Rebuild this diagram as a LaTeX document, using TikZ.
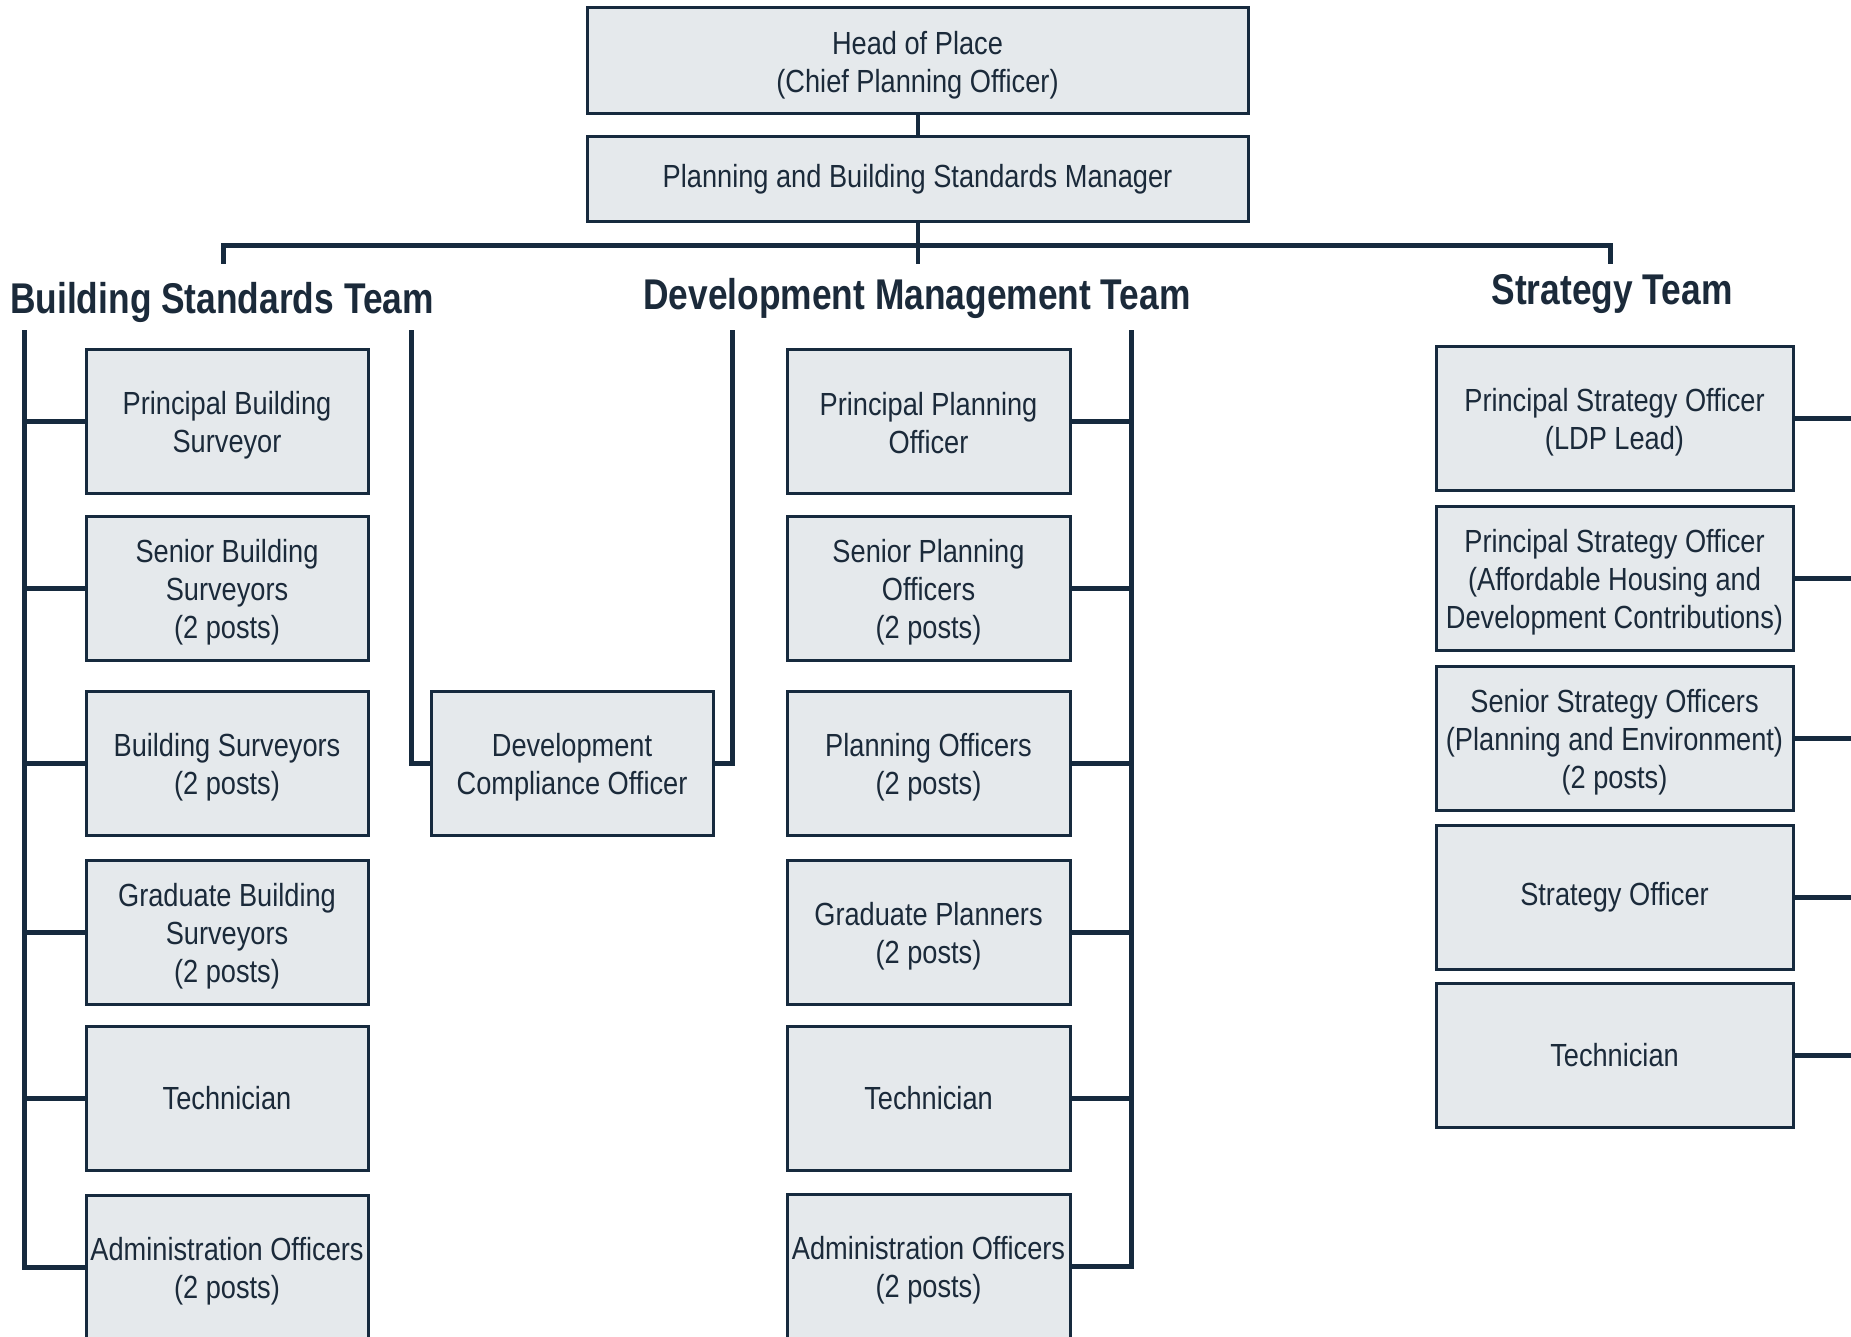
\documentclass[tikz,border=0pt]{standalone}
\usepackage{fontspec}
\setmainfont{Liberation Sans}[FakeStretch=0.85]
\newfontfamily\headfont{Liberation Sans}[FakeStretch=0.822]
\definecolor{navy}{RGB}{22,42,62}
\definecolor{ink}{RGB}{27,42,58}
\definecolor{boxfill}{RGB}{229,233,236}
\begin{document}
\begin{tikzpicture}[x=1pt,y=-1pt,
  role/.style={draw=navy, line width=3pt, fill=boxfill, inner sep=0pt, minimum height=144pt},
  txt/.style={text=ink, inner sep=0pt, align=center, font=\fontsize{32}{38}\selectfont, yshift=-4pt},
  txtone/.style={txt, yshift=4pt},
  bsbox/.style={role, minimum width=282pt},
  dmbox/.style={role, minimum width=283pt},
  stbox/.style={role, minimum width=357pt},
  topbox/.style={role, minimum width=661pt},
  link/.style={draw=navy, line width=5pt},
  teamhead/.style={font=\headfont\bfseries\fontsize{43}{50}\selectfont, text=ink,
    anchor=base, inner sep=0pt}]
\useasboundingbox (0,0) rectangle (1851,1337);
\clip (0,0) rectangle (1851,1337);
\fill[white] (0,0) rectangle (1851,1337);

% top boxes
\path (917.5,61) node[topbox, minimum height=106pt] (head) {}
  node[txt] (headt) {Head of Place\\(Chief Planning Officer)};
\path (917.5,179.5) node[topbox, minimum height=85pt] (mgr) {}
  node[txtone] (mgrt) {Planning and Building Standards Manager};

% team headings
\node[teamhead] (bst) at (222,313) {Building Standards Team};
\node[teamhead] (dmt) at (917,310) {Development Management Team};
\node[teamhead] (stt) at (1612,305) {Strategy Team};

% Building Standards column
\path (227,421) node[bsbox] (bs1) {} node[txt] (bs1t) {Principal Building\\Surveyor};
\path (227,588) node[bsbox] (bs2) {} node[txt] (bs2t) {Senior Building\\Surveyors\\(2 posts)};
\path (227,763) node[bsbox] (bs3) {} node[txt] (bs3t) {Building Surveyors\\(2 posts)};
\path (227,932.5) node[bsbox] (bs4) {} node[txt] (bs4t) {Graduate Building\\Surveyors\\(2 posts)};
\path (227,1098.5) node[bsbox] (bs5) {} node[txtone] (bs5t) {Technician};
\path (227,1267) node[bsbox] (bs6) {} node[txt] (bs6t) {Administration Officers\\(2 posts)};

% Development compliance
\path (572,763) node[role, minimum width=282pt] (dco) {}
  node[txt] (dcot) {Development\\Compliance Officer};

% Development Management column
\path (928.5,421) node[dmbox] (dm1) {} node[txt, yshift=2pt] (dm1t) {Principal Planning\\Officer};
\path (928.5,588) node[dmbox] (dm2) {} node[txt] (dm2t) {Senior Planning\\Officers\\(2 posts)};
\path (928.5,763) node[dmbox] (dm3) {} node[txt] (dm3t) {Planning Officers\\(2 posts)};
\path (928.5,932.5) node[dmbox] (dm4) {} node[txt] (dm4t) {Graduate Planners\\(2 posts)};
\path (928.5,1098.5) node[dmbox] (dm5) {} node[txtone] (dm5t) {Technician};
\path (928.5,1266) node[dmbox] (dm6) {} node[txt] (dm6t) {Administration Officers\\(2 posts)};

% Strategy column
\path (1614.5,418) node[stbox] (st1) {} node[txt] (st1t) {Principal Strategy Officer\\(LDP Lead)};
\path (1614.5,578) node[stbox] (st2) {} node[txt] (st2t) {Principal Strategy Officer\\(Affordable Housing and\\Development Contributions)};
\path (1614.5,738) node[stbox] (st3) {} node[txt] (st3t) {Senior Strategy Officers\\(Planning and Environment)\\(2 posts)};
\path (1614.5,897) node[stbox] (st4) {} node[txtone] (st4t) {Strategy Officer};
\path (1614.5,1055) node[stbox] (st5) {} node[txtone] (st5t) {Technician};

% coordinates for the trunk lines
\coordinate (barL) at (223,264);
\coordinate (barR) at (1610,264);
\coordinate (barM) at (917.5,264);
\coordinate (bsSpine) at (24,330);
\coordinate (bsRight) at (411,330);
\coordinate (dmLeft) at (732,330);
\coordinate (dmSpine) at (1131,330);
\coordinate (stEdge) at (1856,330);

% top connectors
\draw[link, line width=4pt] (head.south) -- (mgr.north);
\draw[link, line width=4pt] (mgr.south) -- (barM);
\draw[link] (barL) -- (barL |- 0,246) -- (barR |- 0,246) -- (barR);

% Building Standards spine
\draw[link] (bsSpine) |- (bs6.west);
\foreach \n in {bs1,bs2,bs3,bs4,bs5}
  \draw[link] (\n.west) -- (\n.west -| bsSpine);

% Development compliance links
\draw[link] (bsRight) |- (dco.west);
\draw[link] (dmLeft) |- (dco.east);

% Development Management spine
\draw[link] (dmSpine) |- (dm6.east);
\foreach \n in {dm1,dm2,dm3,dm4,dm5}
  \draw[link] (\n.east) -- (\n.east -| dmSpine);

% Strategy links to the right edge
\foreach \n in {st1,st2,st3,st4,st5}
  \draw[link] (\n.east) -- (\n.east -| stEdge);
\end{tikzpicture}
\end{document}
